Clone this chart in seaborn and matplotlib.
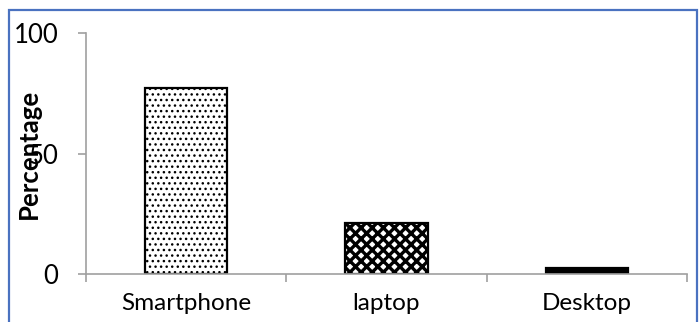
import matplotlib
matplotlib.use("Agg")
import matplotlib.pyplot as plt
import matplotlib.patches as mpatches
import seaborn as sns
import pandas as pd

# values
devices = ["Smartphone", "laptop", "Desktop"]
percent = [77, 21, 2.5]
y_ticks = [0, 50, 100]

hatches = ["...", "xxx", None]
fills = ["white", "white", "black"]

sns.set_theme(style="white")
plt.rcParams["font.family"] = ["Lato", "DejaVu Sans"]
plt.rcParams["hatch.color"] = "black"

df = pd.DataFrame({"device": devices, "percent": percent})

fig = plt.figure(figsize=(6.99, 3.22), dpi=100)
ax = fig.add_axes([86 / 699, 1 - 274 / 322, (687 - 86) / 699, (274 - 33) / 322])

sns.barplot(data=df, x="device", y="percent", hue="device", palette=fills,
            width=0.41, edgecolor="black", linewidth=1.6, legend=False, ax=ax)

for bar, h, dev in zip(ax.patches, hatches, devices):
    if h:
        bar.set_hatch(h)
    if dev == "laptop":
        try:
            bar.set_hatch_linewidth(2.4)
        except AttributeError:
            pass

ax.set_xlim(-0.5, 2.5)
ax.set_ylim(0, 100)
ax.set_yticks(y_ticks)
ax.set_xticks([-0.5, 0.5, 1.5, 2.5], minor=True)

for side in ["top", "right"]:
    ax.spines[side].set_visible(False)
for side in ["left", "bottom"]:
    ax.spines[side].set_color("#a0a0a0")
    ax.spines[side].set_linewidth(1.2)

ax.tick_params(axis="y", which="major", direction="out", length=6, width=1.2,
               color="#a0a0a0", labelsize=18.5, pad=14, left=True)
ax.tick_params(axis="x", which="major", length=0, labelsize=17.5, pad=14)
ax.tick_params(axis="x", which="minor", direction="out", length=6, width=1.2,
               color="#a0a0a0", bottom=True)
for lbl in ax.get_yticklabels() + ax.get_xticklabels():
    lbl.set_color("black")

ax.set_xlabel("")
ax.set_ylabel("Percentage", fontsize=18.5, fontweight="bold", color="black")
ax.yaxis.set_label_coords(-0.075, 0.5)

# blue frame round the picture
frame = mpatches.Rectangle((9 / 699, -0.05), (697 - 9) / 699, 1.05 - 10 / 322,
                           transform=fig.transFigure, fill=False,
                           edgecolor="#4a72c0", linewidth=1.6, clip_on=False)
fig.patches.append(frame)

fig.savefig("out.png", dpi=100, facecolor="white")
